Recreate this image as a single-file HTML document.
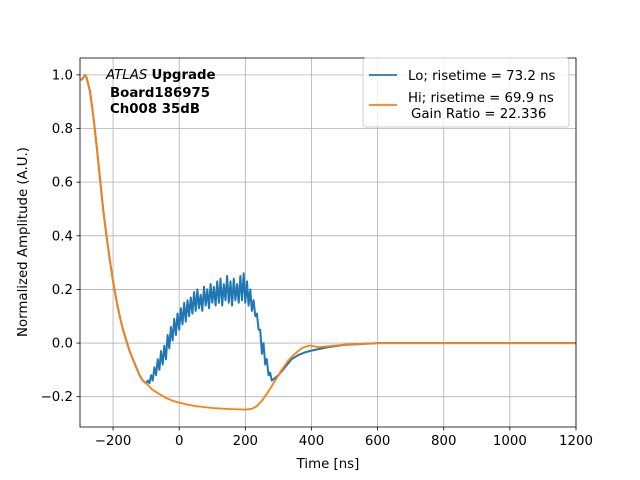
<!DOCTYPE html>
<html><head><meta charset="utf-8"><style>body{margin:0;background:#fff}svg{display:block;font-family:"DejaVu Sans","Liberation Sans",sans-serif}</style></head>
<body>
<svg id="c" width="640" height="480"></svg>
<script>
const xTicks=[-200,0,200,400,600,800,1000,1200];
const yTicks=[-0.2,0,0.2,0.4,0.6,0.8,1.0];
const yTickLabels=["−0.2","0.0","0.2","0.4","0.6","0.8","1.0"];
const commonT=[-297,-290,-285,-280,-270,-260,-250,-240,-230,-220,-210,-200,-190,-180,-170,-160,-150,-140,-130,-120,-110,-100];
const commonV=[0.98,0.99,1.0,0.99,0.94,0.85,0.74,0.62,0.50,0.40,0.31,0.23,0.16,0.10,0.05,0.01,-0.03,-0.06,-0.09,-0.12,-0.14,-0.15];
const hiT=[-80,-60,-40,-20,0,20,50,100,150,200,220,235,250,270,290,310,330,350,370,390,400,420,450,500,600,800,1000,1200];
const hiV=[-0.175,-0.19,-0.205,-0.215,-0.222,-0.228,-0.235,-0.242,-0.246,-0.248,-0.245,-0.235,-0.215,-0.18,-0.14,-0.1,-0.065,-0.04,-0.02,-0.01,-0.01,-0.015,-0.012,-0.006,0,0,0,0];
const loT=[-95,-90,-85,-80,-75,-70,-65,-60,-55,-50,-45,-40,-35,-30,-25,-20,-15,-10,-5,0,5,10,15,20,25,30,35,40,45,50,55,60,65,70,75,80,85,90,95,100,105,110,115,120,125,130,135,140,145,150,155,160,165,170,175,180,185,190,195,200,205,210,215,220,225,230,235,240,245,250,255,260,265,270,275,280,290,300,320,340,360,380,400,450,500,600,1200];
const loV=[-0.14,-0.15,-0.12,-0.14,-0.09,-0.12,-0.06,-0.10,-0.03,-0.08,-0.01,-0.06,0.03,-0.02,0.06,0.01,0.09,0.03,0.11,0.05,0.13,0.07,0.15,0.08,0.16,0.10,0.17,0.11,0.19,0.12,0.20,0.13,0.18,0.12,0.21,0.14,0.20,0.13,0.22,0.15,0.21,0.14,0.23,0.15,0.24,0.14,0.22,0.16,0.25,0.15,0.23,0.14,0.24,0.16,0.22,0.15,0.25,0.16,0.26,0.15,0.23,0.14,0.20,0.12,0.16,0.10,0.11,0.05,0.05,-0.04,0.0,-0.08,-0.06,-0.12,-0.11,-0.14,-0.13,-0.12,-0.09,-0.06,-0.045,-0.035,-0.028,-0.015,-0.007,0,0];
const L=80,R=576,T=58,B=427,xmin=-300,xmax=1200,ymin=-0.313,ymax=1.063;
const X=v=>L+(v-xmin)/(xmax-xmin)*(R-L);
const Y=v=>B-(v-ymin)/(ymax-ymin)*(B-T);
const NS="http://www.w3.org/2000/svg",svg=document.getElementById('c');
function mk(tag,at,txt){const e=document.createElementNS(NS,tag);for(const k in at)e.setAttribute(k,at[k]);if(txt!==undefined)e.textContent=txt;svg.appendChild(e);return e;}
xTicks.forEach(t=>{const g=mk('line',{x1:X(t),x2:X(t),y1:T,y2:B,stroke:'#b0b0b0','stroke-width':0.8});


const k=mk('line',{x1:X(t),x2:X(t),y1:B,y2:B+3.5,stroke:'#000','stroke-width':0.8});


const l=mk('text',{x:X(t),y:B+18,'font-size':13.33,'text-anchor':'middle'},t<0?'−'+(-t):String(t));

});
yTicks.forEach((t,i)=>{const g=mk('line',{x1:L,x2:R,y1:Y(t),y2:Y(t),stroke:'#b0b0b0','stroke-width':0.8});


const k=mk('line',{x1:L-3.5,x2:L,y1:Y(t),y2:Y(t),stroke:'#000','stroke-width':0.8});


const l=mk('text',{x:L-7,y:Y(t)+4.5,'font-size':13.33,'text-anchor':'end'},yTickLabels[i]);

});
function path(ts,vs){return ts.map((t,i)=>(i?'L':'M')+X(t).toFixed(1)+','+Y(vs[i]).toFixed(1)).join('');}
const lo=mk('path',{d:path(commonT.concat(loT),commonV.concat(loV)),fill:'none',stroke:'#1f77b4','stroke-width':2,'stroke-linejoin':'round'});


const hi=mk('path',{d:path(commonT.concat(hiT),commonV.concat(hiV)),fill:'none',stroke:'#ff7f0e','stroke-width':1.8,'stroke-linejoin':'round'});


const fr=mk('rect',{x:L,y:T,width:R-L,height:B-T,fill:'none',stroke:'#000','stroke-width':0.8});


</script>
<svg style="position:absolute;left:0;top:0" width="640" height="480">
<text x="328" y="468" font-size="13.33" text-anchor="middle">Time [ns]</text>
<text transform="translate(27,242) rotate(-90)" font-size="13.33" text-anchor="middle">Normalized Amplitude (A.U.)</text>
<g font-size="13.33">
<text x="106" y="79"><tspan font-style="italic">ATLAS</tspan> <tspan font-weight="bold">Upgrade</tspan></text>
<text x="110" y="97" font-weight="bold">Board186975</text>
<text x="110" y="113" font-weight="bold">Ch008 35dB</text>
</g>
<g>
<rect x="363" y="58" width="206" height="69" rx="3" fill="#fff" fill-opacity="0.8" stroke="#ccc"/>
<line x1="369" x2="397" y1="75" y2="75" stroke="#1f77b4" stroke-width="1.8"/>
<text x="408" y="80" font-size="13.33">Lo; risetime = 73.2 ns</text>
<line x1="369" x2="397" y1="105" y2="105" stroke="#ff7f0e" stroke-width="1.8"/>
<text x="408" y="102" font-size="13.33">Hi; risetime = 69.9 ns</text>
<text x="411" y="118" font-size="13.33">Gain Ratio = 22.336</text>
</g>
</svg>
</body></html>
